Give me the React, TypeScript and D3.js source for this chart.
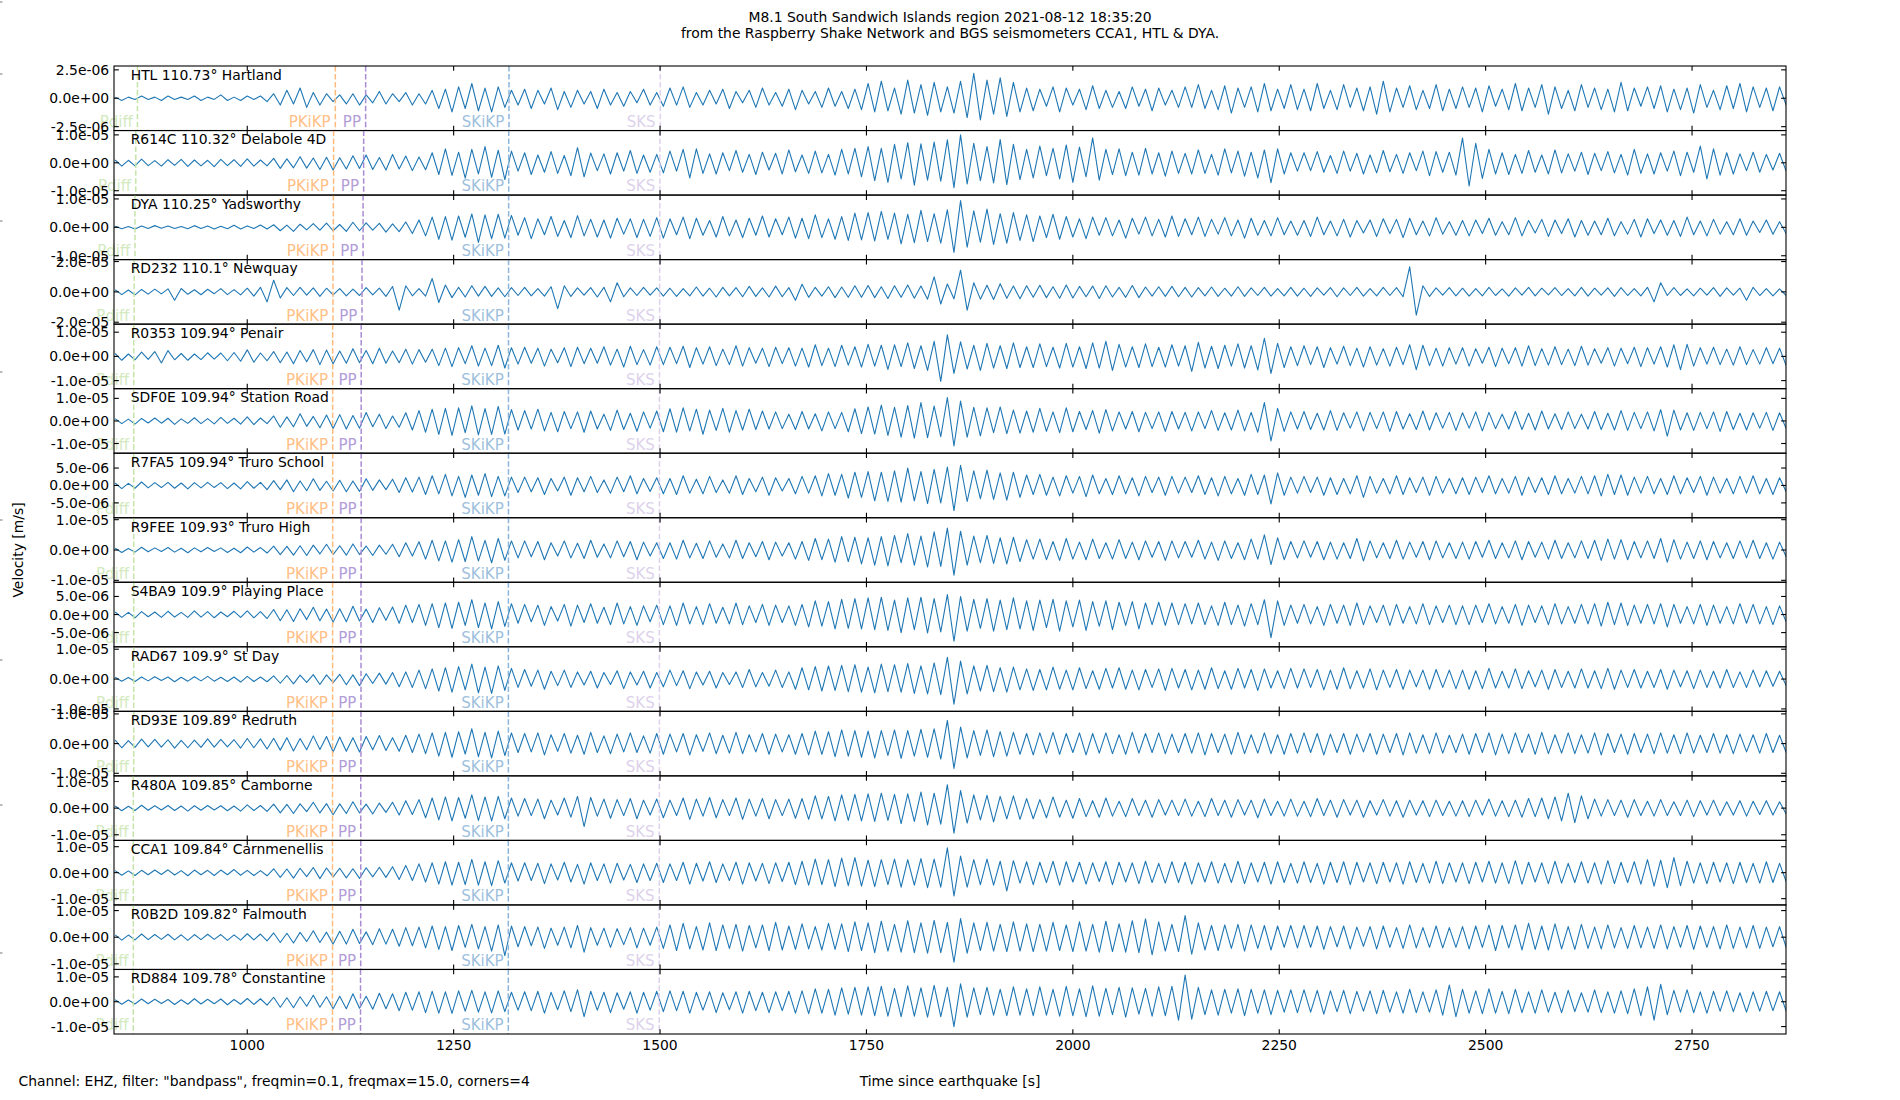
import React from 'react';
import * as d3 from 'd3';

// ---------------- DATA ----------------
const titleLines = [
  'M8.1 South Sandwich Islands region 2021-08-12 18:35:20',
  'from the Raspberry Shake Network and BGS seismometers CCA1, HTL & DYA.',
];
const footerText = 'Channel: EHZ, filter: "bandpass", freqmin=0.1, freqmax=15.0, corners=4';
const xLabel = 'Time since earthquake [s]';
const yLabel = 'Velocity [m/s]';

const stations = [
  'HTL 110.73° Hartland', 'R614C 110.32° Delabole 4D', 'DYA 110.25° Yadsworthy', 'RD232 110.1° Newquay',
  'R0353 109.94° Penair', 'SDF0E 109.94° Station Road', 'R7FA5 109.94° Truro School', 'R9FEE 109.93° Truro High',
  'S4BA9 109.9° Playing Place', 'RAD67 109.9° St Day', 'RD93E 109.89° Redruth', 'R480A 109.85° Camborne',
  'CCA1 109.84° Carnmenellis', 'R0B2D 109.82° Falmouth', 'RD884 109.78° Constantine',
];

// half range of each panel's velocity axis [m/s]
const yLimits = [2.84e-6, 1.156e-5, 1.136e-5, 2.128e-5, 1.333e-5, 1.43e-5, 9.26e-6, 1.064e-5, 8.93e-6, 1.081e-5, 1.087e-5, 1.212e-5, 1.242e-5, 1.212e-5, 1.299e-5];
const yTickValues = [2.5e-6, 1e-5, 1e-5, 2e-5, 1e-5, 1e-5, 5e-6, 1e-5, 5e-6, 1e-5, 1e-5, 1e-5, 1e-5, 1e-5, 1e-5];
const yTickLabelsTop = ['2.5e-06', '1.0e-05', '1.0e-05', '2.0e-05', '1.0e-05', '1.0e-05', '5.0e-06', '1.0e-05', '5.0e-06', '1.0e-05', '1.0e-05', '1.0e-05', '1.0e-05', '1.0e-05', '1.0e-05'];
const yTickLabelsBottom = ['-2.5e-06', '-1.0e-05', '-1.0e-05', '-2.0e-05', '-1.0e-05', '-1.0e-05', '-5.0e-06', '-1.0e-05', '-5.0e-06', '-1.0e-05', '-1.0e-05', '-1.0e-05', '-1.0e-05', '-1.0e-05', '-1.0e-05'];
const yZeroLabel = '0.0e+00';

const xLimits = [838.6, 2863.8];
const xTicks = [1000, 1250, 1500, 1750, 2000, 2250, 2500, 2750];

// phase arrival times per station [s]
const phaseNames = ['Pdiff', 'PKiKP', 'PP', 'SKiKP', 'SKS'];
const phasePdiff = [867, 865, 864, 863, 862.5, 862.5, 862.5, 862.5, 862.5, 862.5, 862.5, 862, 862, 862, 862];
const phasePKiKP = [1106.7, 1104.6, 1104.3, 1103.8, 1103.5, 1103.5, 1103.5, 1103.5, 1103.4, 1103.4, 1103.4, 1103.3, 1103.3, 1103.3, 1103.2];
const phasePP = [1143.4, 1141, 1140.3, 1139, 1138, 1138, 1138, 1138, 1137.8, 1137.8, 1137.7, 1137.5, 1137.5, 1137.4, 1137.2];
const phaseSKiKP = [1317, 1316.7, 1316.6, 1316.5, 1316.4, 1316.4, 1316.4, 1316.4, 1316.3, 1316.3, 1316.3, 1316.3, 1316.2, 1316.2, 1316.2];
const phaseSKS = [1500.3, 1499.8, 1499.7, 1499.5, 1499.3, 1499.3, 1499.3, 1499.3, 1499.2, 1499.2, 1499.2, 1499.1, 1499.1, 1499, 1499];

// waveform peaks, velocity in units of 1e-7 m/s, one value every 8 s starting at 840 s
const sampleStart = 840;
const sampleStep = 8;

const waveHTL = [1,-2,1,-1,2,-1,1,-2,2,-1,1,-1,2,-2,1,-1,3,-2,1,-2,2,-1,2,-3,
4,-6,7,-5,9,-8,5,-6,4,-3,
3,-5,4,-6,3,-4,6,-5,4,-3,5,-6,4,-5,
7,-9,8,-12,10,-9,13,-11,9,-12,10,-8,7,
-6,8,-9,7,-5,9,-10,6,-8,7,-5,6,-9,8,-6,5,-7,6,-4,8,-6,5,
-7,9,-6,10,-8,5,-6,7,-5,8,-9,6,-4,7,-8,9,-6,5,-7,8,-10,7,-5,6,-8,9,-7,6,-9,8,
-10,13,-12,15,-11,9,-14,16,-13,12,-15,14,-12,10,-13,15,-17,22,-19,16,-14,18,-16,14,-12,
9,-11,8,-7,10,-12,9,-6,8,-10,11,-9,7,-8,6,-9,10,-7,8,-11,9,-6,7,-8,
10,-8,12,-9,7,-10,11,-13,9,-8,10,-12,13,-11,8,-9,12,
-10,8,-11,13,-9,7,-10,12,-8,9,-11,10,-14,15,-12,9,-8,11,-10,7,-9,12,-11,8,-9,
10,-8,9,-12,11,-7,8,-10,13,-11,9,-8,12,-14,10,-9,7,-11,12,-8,9,-10,8,-12,14,-11,9,-7,10,-9,11,-12,8,-10,9,-13,12,-8,7,-10,11,-9,13,-12,10,-8,9,-11,10,-6];

const waveR614C = [10,-12,9,-11,13,-10,8,-12,11,-9,12,-13,10,-11,9,-14,12,-10,11,-13,14,-12,10,-11,
16,-20,14,-18,22,-19,17,-24,20,-26,
18,-22,25,-20,28,-24,19,-26,30,-22,24,-28,21,-25,
36,-42,50,-45,38,-55,48,-40,58,-52,45,-60,42,
-30,36,-42,28,-34,40,-38,26,-46,54,-50,35,-28,32,-40,36,-30,44,-38,28,-34,30,
-36,42,-30,48,-54,50,-38,32,-40,36,-28,44,-34,30,-42,38,-26,34,-40,46,-32,28,-38,42,-36,30,-44,48,-40,52,
-50,58,-64,52,-70,66,-58,72,-80,68,-62,74,-66,82,-89,100,-76,70,-64,58,-72,83,-78,66,-60,
48,-54,60,-46,52,-58,64,-70,56,-50,89,-62,48,-42,50,-46,38,-44,52,-40,36,-48,42,-38,
34,-40,46,-38,30,-44,50,-36,42,-48,38,-54,46,-71,50,-40,36,
-30,36,-28,40,-34,26,-38,42,-30,34,-40,28,-36,44,-32,30,-38,36,-28,42,-46,40,-34,38,-44,
89,-83,70,-56,48,-40,36,-42,30,-38,44,-34,28,-40,46,-36,32,-30,38,-42,34,-28,40,-36,30,-44,48,-38,32,-40,36,-30,42,-46,38,-34,60,-58,50,-44,36,-40,32,-28,38,-34,30,-26,34,-30];

const waveDYA = [4,-5,3,-6,5,-4,6,-3,5,-4,3,-5,6,-4,5,-6,4,-5,7,-6,5,-4,8,-6,
9,-12,8,-14,11,-9,13,-10,15,-12,
10,-14,18,-12,16,-10,14,-17,12,-15,19,-22,26,-30,
36,-42,38,-45,40,-35,47,-53,44,-40,46,-38,42,
-28,34,-40,30,-26,38,-32,24,-36,41,-30,28,-34,26,-38,32,-24,30,-36,28,-32,34,
-38,30,-26,36,-40,32,-28,24,-34,38,-30,26,-36,32,-28,40,-34,30,-26,36,-38,32,-40,44,-36,30,-42,38,-46,50,
-44,52,-48,56,-42,50,-58,46,-54,60,-50,48,-56,62,-88,94,-70,58,-52,64,-60,48,-56,52,-46,
44,-50,40,-36,46,-42,38,-34,30,-40,36,-28,34,-30,26,-38,32,-24,36,-30,28,-34,40,-32,
30,-26,36,-32,28,-24,34,-30,26,-38,32,-28,24,-30,34,-26,22,
-28,24,-32,36,-26,22,-30,28,-34,24,-20,26,-32,30,-22,28,-36,32,-26,22,-30,34,-24,20,-28,
24,-30,26,-22,32,-28,20,-26,34,-30,24,-20,28,-32,26,-22,30,-34,24,-28,22,-26,32,-30,20,-24,28,-34,30,-22,26,-28,24,-32,36,-26,22,-30,28,-24,20,-26,30,-28,22,-18,26,-24,20,-22];

const waveRD232 = [14,-18,12,-20,16,-15,18,-13,20,-55,22,-16,14,-19,17,-12,21,-18,15,-20,24,-28,30,-66,
77,-40,28,-24,30,-22,26,-30,24,-20,
22,-26,18,-24,28,-20,25,-30,35,-121,40,-26,22,-28,
88,-70,45,-38,30,-34,40,-28,36,-30,26,-32,28,
-24,30,-26,22,-28,34,-110,40,-30,26,-22,28,-34,30,-66,60,-32,26,-24,30,-22,26,
-28,24,-30,22,-26,32,-28,24,-34,30,-26,28,-32,36,-30,26,-34,38,-32,28,-55,50,-36,30,-28,34,-38,32,-36,40,
-36,42,-38,34,-44,40,-36,46,-42,38,-48,99,-80,52,-46,143,-121,60,-48,44,-50,54,-42,38,-46,
40,-36,44,-38,34,-42,46,-40,36,-32,38,-44,40,-34,30,-36,42,-38,32,-28,34,-30,36,-32,
30,-34,28,-26,32,-30,24,-28,34,-30,26,-24,30,-28,22,-26,30,
-28,24,-30,26,-22,28,-32,26,-24,30,-28,22,-26,30,-24,28,-32,165,-154,40,-30,26,-22,28,-26,
24,-28,22,-26,30,-24,20,-28,26,-22,30,-26,24,-20,28,-24,22,-26,30,-28,24,-22,26,-30,28,-24,22,-26,30,-66,60,-24,28,-24,20,-26,24,-22,28,-30,26,-22,24,-55,30,-24,22,-26,20,-24];

const waveR0353 = [12,-16,10,-14,18,-12,20,-27,24,-14,12,-16,10,-13,15,-11,14,-18,16,-20,27,-24,14,-18,
20,-26,18,-30,24,-22,28,-34,26,-30,
22,-28,32,-26,24,-30,34,-28,22,-26,30,-32,28,-24,
30,-38,34,-42,36,-30,44,-40,34,-38,46,-48,36,
-32,38,-28,34,-40,30,-26,36,-42,38,-30,34,-28,40,-36,30,-44,42,-34,28,-36,40,
-34,38,-30,42,-46,36,-32,40,-38,30,-34,44,-40,36,-28,34,-42,38,-30,36,-40,34,-44,48,-38,34,-42,46,-36,40,
-44,50,-40,46,-54,48,-42,56,-50,44,-58,62,-103,89,-70,60,-52,46,-58,54,-48,44,-50,56,-46,
40,-46,52,-42,38,-48,54,-44,40,-50,56,-48,62,-58,50,-44,40,-46,52,-42,38,-44,48,-40,
44,-62,58,-48,42,-50,46,-40,52,-48,44,-56,75,-70,54,-46,40,
-38,44,-34,40,-46,36,-32,42,-38,34,-44,40,-36,32,-40,38,-34,48,-55,46,-38,34,-40,36,-32,
36,-40,32,-28,38,-42,34,-30,36,-40,44,-38,32,-36,40,-34,30,-38,42,-36,32,-28,36,-40,34,-30,38,-42,36,-32,40,-44,48,-55,50,-40,36,-32,38,-34,30,-36,40,-34,28,-32,36,-30,34,-38];

const waveSDF0E = [10,-12,8,-14,11,-9,13,-10,12,-15,9,-11,14,-12,10,-13,16,-11,12,-14,18,-16,13,-12,
22,-28,18,-26,32,-24,20,-30,26,-34,
28,-36,24,-32,37,-26,30,-34,22,-28,36,-40,46,-50,
52,-60,56,-64,58,-52,67,-62,55,-60,64,-58,50,
-40,46,-36,52,-44,38,-48,42,-34,40,-50,44,-36,30,-42,48,-38,34,-46,40,-32,44,
-48,54,-50,58,-44,52,-59,48,-42,56,-50,46,-40,52,-38,44,-36,40,-34,30,-38,42,-36,32,-44,40,-34,38,-48,54,
-56,62,-58,70,-64,60,-72,68,-76,81,-74,66,-70,104,-111,88,-72,60,-66,58,-52,62,-56,48,-54,
44,-50,56,-46,40,-52,58,-48,42,-38,46,-54,50,-44,40,-36,42,-48,38,-34,40,-46,42,-36,
38,-44,40,-34,46,-42,36,-40,48,-44,38,-50,81,-89,56,-46,40,
-36,42,-38,34,-40,46,-42,36,-32,40,-44,38,-34,40,-46,42,-36,32,-38,44,-40,36,-32,38,-42,
36,-32,40,-44,38,-34,30,-36,42,-38,34,-40,44,-36,32,-38,40,-34,30,-36,42,-38,34,-40,46,-42,38,-34,40,-44,50,-67,48,-40,36,-42,38,-34,40,-46,42,-38,34,-40,36,-32,38,-42,36,-34];

const waveR7FA5 = [7,-9,6,-8,10,-7,8,-6,9,-8,7,-10,8,-7,9,-6,8,-9,7,-10,11,-8,9,-12,
14,-12,16,-18,13,-15,19,-14,12,-16,
15,-18,13,-17,19,-14,16,-12,18,-20,22,-19,24,-26,
28,-24,32,-30,26,-34,30,-28,34,-32,26,-30,24,
-20,24,-18,22,-26,20,-16,24,-28,22,-18,26,-20,16,-22,24,-18,28,-24,20,-17,22,
-24,20,-26,28,-22,18,-24,26,-20,16,-22,28,-26,20,-18,24,-28,22,-16,20,-24,26,-22,28,-30,34,-28,32,-36,38,
-34,40,-44,38,-46,42,-48,50,-44,40,-52,46,-50,53,-72,58,-46,42,-38,44,-40,36,-42,38,-34,
30,-26,32,-28,24,-30,28,-22,26,-32,30,-24,20,-26,28,-24,22,-30,26,-20,24,-28,26,-22,
24,-20,28,-26,22,-30,26,-24,20,-28,32,-26,30,-53,36,-28,24,
-22,26,-20,24,-28,22,-26,20,-24,28,-34,26,-22,20,-24,28,-26,22,-20,24,-28,26,-22,20,-24,
22,-26,24,-20,28,-24,20,-22,26,-28,24,-20,22,-26,28,-24,20,-22,26,-24,28,-30,32,-26,30,-28,24,-22,26,-24,20,-26,28,-24,22,-20,26,-28,24,-22,20,-24,26,-22,28,-24,20,-26,22,-18];

const waveR9FEE = [6,-8,5,-7,9,-6,7,-5,8,-7,6,-9,7,-6,8,-5,7,-8,6,-9,10,-7,8,-10,
13,-15,12,-17,14,-18,16,-13,19,-15,
14,-17,20,-15,13,-18,16,-14,19,-22,24,-20,27,-30,
32,-36,30,-40,34,-38,44,-36,32,-42,38,-34,30,
-26,30,-22,28,-32,24,-20,30,-26,22,-28,32,-24,20,-26,30,-22,28,-32,26,-20,24,
-28,24,-30,32,-26,22,-28,30,-24,20,-26,32,-28,24,-22,28,-32,26,-20,24,-30,28,-34,38,-32,36,-40,44,-38,42,
-46,40,-50,44,-52,48,-42,54,-50,46,-56,60,-54,72,-83,62,-50,46,-42,48,-44,40,-46,42,-38,
34,-30,36,-32,28,-34,38,-30,26,-32,36,-28,24,-30,34,-28,26,-32,30,-24,28,-34,30,-26,
28,-24,32,-30,26,-34,30,-28,24,-32,36,-30,50,-48,40,-32,28,
-26,30,-24,28,-32,26,-30,24,-28,38,-36,30,-26,24,-28,32,-30,26,-24,28,-32,30,-26,24,-28,
26,-30,28,-24,32,-28,24,-26,30,-32,28,-24,26,-30,32,-28,24,-26,30,-28,32,-34,36,-30,34,-32,28,-26,30,-28,38,-40,34,-30,26,-28,30,-32,28,-26,24,-28,30,-26,32,-28,24,-30,26,-22];

const waveS4BA9 = [7,-8,6,-9,8,-6,7,-8,9,-7,6,-8,10,-7,8,-9,7,-6,9,-8,10,-9,8,-11,
14,-17,13,-19,16,-14,20,-17,15,-21,
16,-20,23,-18,15,-22,19,-16,21,-24,26,-22,28,-30,
30,-36,32,-38,34,-30,41,-36,32,-40,36,-33,30,
-24,28,-20,26,-30,22,-18,28,-32,26,-22,30,-24,20,-28,32,-26,22,-30,24,-20,26,
-28,24,-30,32,-26,22,-28,30,-24,20,-26,32,-28,24,-22,28,-30,26,-22,24,-30,28,-34,38,-32,36,-40,42,-38,44,
-40,46,-42,48,-44,40,-50,46,-42,48,-51,44,-48,55,-74,50,-46,42,-38,44,-46,40,-42,46,-40,
38,-44,40,-36,42,-46,38,-34,40,-44,36,-32,38,-42,34,-30,36,-40,32,-28,34,-30,32,-28,
30,-26,32,-28,24,-30,34,-28,26,-32,30,-28,41,-64,38,-30,26,
-24,28,-26,22,-30,28,-24,26,-30,32,-28,24,-22,26,-30,28,-24,22,-26,30,-28,24,-22,26,-28,
24,-28,26,-22,30,-26,22,-24,28,-30,26,-22,24,-28,30,-26,22,-24,28,-26,30,-32,34,-28,32,-30,26,-24,28,-26,30,-34,28,-24,22,-26,28,-30,26,-24,22,-26,30,-24,28,-26,22,-28,24,-20];

const waveRAD67 = [6,-7,5,-8,7,-6,8,-5,7,-9,6,-7,8,-6,9,-7,6,-8,7,-10,9,-8,7,-9,
11,-14,12,-16,13,-11,15,-18,14,-12,
16,-19,14,-22,18,-15,20,-17,22,-26,24,-28,30,-32,
34,-40,38,-44,42,-36,50,-46,40,-48,44,-38,36,
-28,32,-24,30,-34,26,-22,30,-28,24,-20,26,-30,22,-18,28,-32,24,-20,26,-30,22,
-26,30,-22,28,-32,24,-20,26,-30,22,-18,24,-28,32,-26,22,-24,30,-28,24,-34,38,-36,42,-40,44,-38,46,-42,48,
-44,40,-46,50,-42,48,-44,52,-48,44,-50,54,-52,73,-84,60,-50,44,-40,46,-42,38,-44,40,-36,
34,-38,32,-36,40,-34,30,-36,38,-32,28,-34,36,-30,38,-34,30,-36,32,-28,34,-38,36,-30,
32,-36,30,-34,38,-32,28,-34,36,-30,32,-38,34,-30,28,-32,36,
-30,34,-28,32,-36,30,-34,38,-32,28,-30,34,-36,30,-28,32,-34,30,-26,30,-34,32,-28,30,-32,
30,-34,28,-32,36,-30,26,-30,34,-32,28,-26,30,-34,32,-28,26,-30,34,-30,28,-32,36,-34,30,-28,32,-30,26,-28,32,-34,30,-26,28,-32,30,-28,26,-30,32,-28,24,-28,30,-26,28,-24,26,-22];

const waveRD93E = [12,-14,10,-13,15,-11,14,-12,13,-15,11,-14,12,-13,16,-12,14,-11,13,-15,17,-14,16,-18,
18,-22,20,-25,17,-21,26,-20,24,-28,
22,-26,20,-28,24,-21,27,-23,20,-26,28,-30,32,-34,
36,-42,38,-46,40,-35,50,-44,38,-48,42,-40,36,
-30,34,-28,36,-38,30,-26,34,-32,28,-36,38,-30,26,-34,32,-28,36,-30,26,-32,34,
-36,32,-28,34,-38,30,-26,36,-34,28,-32,38,-34,30,-28,34,-36,32,-28,30,-36,34,-38,42,-36,40,-44,46,-42,44,
-46,42,-48,44,-40,46,-50,44,-42,48,-46,50,-52,78,-84,56,-48,44,-40,46,-44,40,-42,38,-36,
34,-38,36,-32,38,-36,34,-30,36,-38,34,-32,36,-34,30,-36,38,-32,34,-30,36,-34,32,-30,
34,-32,36,-38,34,-30,32,-36,38,-34,30,-32,36,-34,30,-36,34,
-32,36,-30,34,-38,32,-30,34,-36,32,-28,34,-36,32,-30,34,-38,36,-32,30,-34,36,-32,28,-30,
32,-36,34,-30,36,-38,32,-34,36,-30,32,-36,38,-34,30,-32,36,-34,30,-32,36,-38,34,-30,32,-36,34,-30,32,-34,36,-32,30,-34,36,-32,28,-30,34,-32,30,-34,32,-28,30,-32,34,-30,28,-30];

const waveR480A = [8,-10,7,-9,11,-8,9,-7,10,-9,8,-11,9,-8,10,-7,9,-10,8,-11,12,-9,10,-12,
15,-18,14,-20,16,-13,22,-18,17,-25,
16,-20,24,-18,15,-22,19,-16,22,-26,28,-24,32,-36,
38,-44,42,-48,40,-38,50,-46,42,-48,44,-40,38,
-30,36,-28,34,-40,30,-26,38,-34,44,-69,40,-30,34,-38,32,-28,36,-40,30,-26,34,
-36,30,-28,38,-42,34,-30,40,-36,32,-28,38,-42,34,-30,36,-40,32,-28,34,-38,36,-42,46,-40,44,-48,50,-46,52,
-48,54,-50,56,-46,52,-58,54,-50,60,-63,56,-60,88,-94,66,-56,50,-44,48,-52,44,-40,46,-42,
36,-40,32,-36,42,-34,30,-38,36,-32,28,-34,38,-30,26,-32,36,-28,30,-34,32,-26,30,-28,
34,-30,26,-32,36,-28,30,-34,32,-26,30,-36,34,-28,26,-30,34,
-30,26,-32,36,-28,30,-34,32,-26,30,-34,28,-26,32,-30,28,-34,30,-26,28,-32,30,-28,26,-30,
28,-32,30,-26,34,-30,28,-32,30,-34,36,-32,38,-40,42,-48,56,-54,46,-40,34,-30,32,-28,30,-34,32,-28,26,-30,32,-28,24,-28,30,-32,28,-26,30,-28,24,-26,28,-30,26,-24,28,-26,24,-22];

const waveCCA1 = [8,-10,7,-11,9,-8,10,-7,11,-9,8,-12,10,-8,9,-11,10,-8,12,-10,9,-11,8,-12,
15,-18,14,-21,17,-15,20,-23,18,-16,
17,-20,15,-22,19,-16,21,-18,23,-26,28,-30,34,-36,
38,-44,42,-48,40,-46,51,-48,42,-50,46,-40,38,
-32,38,-30,36,-42,34,-28,40,-36,32,-44,38,-30,34,-40,36,-28,32,-38,34,-30,36,
-38,34,-30,40,-44,36,-32,42,-38,34,-30,40,-44,38,-32,36,-42,38,-34,40,-46,44,-48,52,-46,50,-54,56,-50,58,
-52,48,-54,50,-46,52,-56,50,-48,54,-58,52,-56,96,-90,64,-56,50,-46,52,-48,44,-70,46,-40,
42,-46,40,-38,44,-48,42,-36,40,-44,38,-34,42,-46,40,-36,38,-42,44,-38,36,-40,42,-38,
40,-44,38,-36,42,-40,36,-38,44,-42,38,-36,40,-44,42,-38,36,
-40,42,-38,36,-44,40,-38,42,-46,40,-36,38,-42,40,-36,38,-44,42,-38,36,-40,44,-42,38,-36,
38,-42,40,-36,44,-40,38,-42,46,-44,40,-36,38,-42,44,-40,36,-38,42,-40,38,-44,46,-42,40,-38,42,-44,50,-52,48,-58,58,-50,44,-40,38,-42,40,-36,38,-42,40,-38,36,-40,42,-38,36,-34];

const waveR0B2D = [9,-11,8,-10,12,-9,10,-8,11,-10,9,-12,10,-9,11,-8,10,-12,9,-11,13,-10,12,-14,
16,-20,15,-22,18,-16,24,-20,19,-26,
22,-26,30,-24,20,-28,32,-26,30,-34,36,-32,38,-40,
42,-46,40,-50,44,-38,48,-44,40,-52,46,-69,42,
-36,40,-32,38,-42,34,-30,38,-40,44,-56,36,-30,34,-38,32,-28,36,-40,34,-30,38,
-42,46,-50,52,-44,40,-48,54,-50,46,-42,48,-52,44,-40,46,-50,56,-48,42,-46,50,-44,40,-48,52,-46,50,-54,58,
-50,54,-58,60,-52,48,-56,62,-58,54,-60,63,-58,56,-94,70,-60,54,-50,56,-52,48,-54,58,-52,
50,-54,48,-52,56,-50,46,-54,58,-52,48,-56,60,-54,50,-56,62,-58,69,-66,58,-52,48,-54,
81,-64,54,-48,44,-50,46,-42,48,-52,46,-42,44,-48,42,-38,44,
-40,44,-38,42,-46,40,-36,42,-44,38,-34,40,-44,42,-38,36,-42,46,-40,36,-38,42,-40,36,-38,
40,-44,42,-38,46,-50,44,-40,46,-48,52,-46,42,-48,50,-44,40,-46,48,-42,38,-44,46,-40,36,-42,44,-40,38,-42,46,-44,40,-38,44,-46,42,-38,40,-44,46,-42,38,-40,44,-42,38,-36,40,-38];

const waveRD884 = [8,-10,7,-9,11,-8,10,-7,9,-11,8,-10,12,-9,10,-8,11,-12,9,-10,13,-11,12,-14,
18,-22,16,-24,20,-18,26,-22,20,-28,
22,-28,32,-26,22,-30,34,-28,32,-36,38,-34,40,-44,
42,-46,40,-47,44,-38,46,-42,40,-45,44,-40,38,
-34,40,-36,42,-46,38,-32,44,-40,48,-60,42,-34,38,-44,36,-30,40,-46,38,-34,42,
-40,44,-36,42,-46,38,-34,40,-44,36,-32,40,-46,42,-36,38,-44,40,-36,42,-46,44,-48,52,-46,50,-54,56,-50,58,
-54,60,-56,62,-58,54,-60,64,-58,56,-62,66,-60,58,-100,72,-62,56,-52,58,-54,50,-56,60,-54,
52,-56,60,-54,50,-58,62,-56,52,-60,64,-58,54,-52,58,-62,56,-50,54,-58,60,-56,62,-74,
107,-70,58,-52,48,-54,50,-46,52,-56,50,-46,48,-52,46,-42,48,
-44,48,-42,46,-50,44,-40,46,-48,42,-38,44,-48,46,-42,40,-46,50,-44,40,-42,48,-54,67,-60,
50,-46,44,-48,52,-46,42,-48,50,-44,40,-46,48,-42,38,-44,46,-40,36,-42,48,-44,40,-46,44,-48,52,-56,60,-74,70,-52,46,-42,48,-44,40,-46,42,-38,44,-40,36,-42,40,-38,42,-36,40,-38];

const waveforms = [waveHTL, waveR614C, waveDYA, waveRD232, waveR0353, waveSDF0E, waveR7FA5, waveR9FEE, waveS4BA9, waveRAD67, waveRD93E, waveR480A, waveCCA1, waveR0B2D, waveRD884];

// ---------------- STYLE / LAYOUT ----------------
const W = 1900;
const H = 1100;
const LEFT = 114;
const RIGHT = 1786;
const TOP = 66;
const BOTTOM = 1034;
const TICK = 4.86;
const FONT = 'DejaVu Sans';
const TRACE_COLOR = '#1f77b4';
const phaseColors = ['#c6e4a9', '#ffbb7c', '#a98cd1', '#8db6da', '#ddd1ec'];
const phaseTextColors = ['#d3eabf', '#ffbf86', '#b39dd8', '#9ebfdd', '#ddd2eb'];
const edgeMarkY = [2, 74, 221, 372, 520, 660, 805, 953];

export default function App() {
  const n = stations.length;
  const ph = (BOTTOM - TOP) / n;
  const x = d3.scaleLinear().domain(xLimits).range([LEFT, RIGHT]);
  const phaseTimes = [phasePdiff, phasePKiKP, phasePP, phaseSKiKP, phaseSKS];

  const panels = stations.map((name, i) => {
    const y0 = TOP + i * ph;
    const y1 = y0 + ph;
    const L = yLimits[i];
    const y = d3.scaleLinear().domain([-L, L]).range([y1, y0]);
    const line = d3
      .line<number>()
      .x((_, j) => x(sampleStart + j * sampleStep))
      .y((d) => y(d * 1e-7));
    const tv = yTickValues[i];
    const yt = [
      { v: tv, label: yTickLabelsTop[i] },
      { v: 0, label: yZeroLabel },
      { v: -tv, label: yTickLabelsBottom[i] },
    ];
    return (
      <g key={name}>
        <clipPath id={`clip${i}`}>
          <rect x={LEFT} y={y0} width={RIGHT - LEFT} height={ph} />
        </clipPath>
        <path
          d={line(waveforms[i]) || ''}
          fill="none"
          stroke={TRACE_COLOR}
          strokeWidth={1.1}
          strokeLinejoin="round"
          clipPath={`url(#clip${i})`}
        />
        {phaseNames.map((p, k) => {
          const px = x(phaseTimes[k][i]);
          return (
            <g key={p}>
              <line
                x1={px}
                x2={px}
                y1={y0}
                y2={y1}
                stroke={phaseColors[k]}
                strokeWidth={1.5}
                strokeDasharray="5.55 2.4"
              />
              <text
                x={px - 4.7}
                y={y1 - 3.6}
                textAnchor="end"
                fontSize={15}
                fontFamily={FONT}
                fill={phaseTextColors[k]}
              >
                {p}
              </text>
            </g>
          );
        })}
        <text x={LEFT + 16.7} y={y0 + 13.8} fontSize={13.9} fontFamily={FONT} fill="#000">
          {name}
        </text>
        {/* y ticks */}
        {yt.map((t) => (
          <g key={t.label}>
            <line x1={LEFT} x2={LEFT + TICK} y1={y(t.v)} y2={y(t.v)} stroke="#000" strokeWidth={1.1} />
            <line x1={RIGHT - TICK} x2={RIGHT} y1={y(t.v)} y2={y(t.v)} stroke="#000" strokeWidth={1.1} />
            <text
              x={LEFT - 4.86}
              y={y(t.v)}
              dy="0.36em"
              textAnchor="end"
              fontSize={13.9}
              fontFamily={FONT}
              fill="#000"
            >
              {t.label}
            </text>
          </g>
        ))}
        {/* x ticks top & bottom */}
        {xTicks.map((t) => (
          <g key={t}>
            <line x1={x(t)} x2={x(t)} y1={y0} y2={y0 + TICK} stroke="#000" strokeWidth={1.1} />
            <line x1={x(t)} x2={x(t)} y1={y1 - TICK} y2={y1} stroke="#000" strokeWidth={1.1} />
          </g>
        ))}
        <rect x={LEFT} y={y0} width={RIGHT - LEFT} height={ph} fill="none" stroke="#000" strokeWidth={1.1} />
      </g>
    );
  });

  return (
    <svg
      width={W}
      height={H}
      viewBox={`0 0 ${W} ${H}`}
      style={{ position: 'absolute', left: 0, top: 0, background: '#fff' }}
    >
      <rect x={0} y={0} width={W} height={H} fill="#fff" />
      {titleLines.map((t, i) => (
        <text
          key={i}
          x={(LEFT + RIGHT) / 2}
          y={21.5 + i * 16.2}
          textAnchor="middle"
          fontSize={13.9}
          fontFamily={FONT}
          fill="#000"
        >
          {t}
        </text>
      ))}
      {panels}
      {xTicks.map((t) => (
        <text
          key={t}
          x={x(t)}
          y={1050}
          textAnchor="middle"
          fontSize={13.9}
          fontFamily={FONT}
          fill="#000"
        >
          {t}
        </text>
      ))}
      <text x={(LEFT + RIGHT) / 2} y={1085.5} textAnchor="middle" fontSize={13.9} fontFamily={FONT} fill="#000">
        {xLabel}
      </text>
      <text x={18.5} y={1085.5} fontSize={13.9} fontFamily={FONT} fill="#000">
        {footerText}
      </text>
      <text
        transform={`translate(17.5, ${(TOP + BOTTOM) / 2}) rotate(-90)`}
        dy="0.36em"
        textAnchor="middle"
        fontSize={13.9}
        fontFamily={FONT}
        fill="#000"
      >
        {yLabel}
      </text>
      {edgeMarkY.map((yy) => (
        <line key={yy} x1={0} x2={2.5} y1={yy} y2={yy} stroke="#777" strokeWidth={1} />
      ))}
    </svg>
  );
}
